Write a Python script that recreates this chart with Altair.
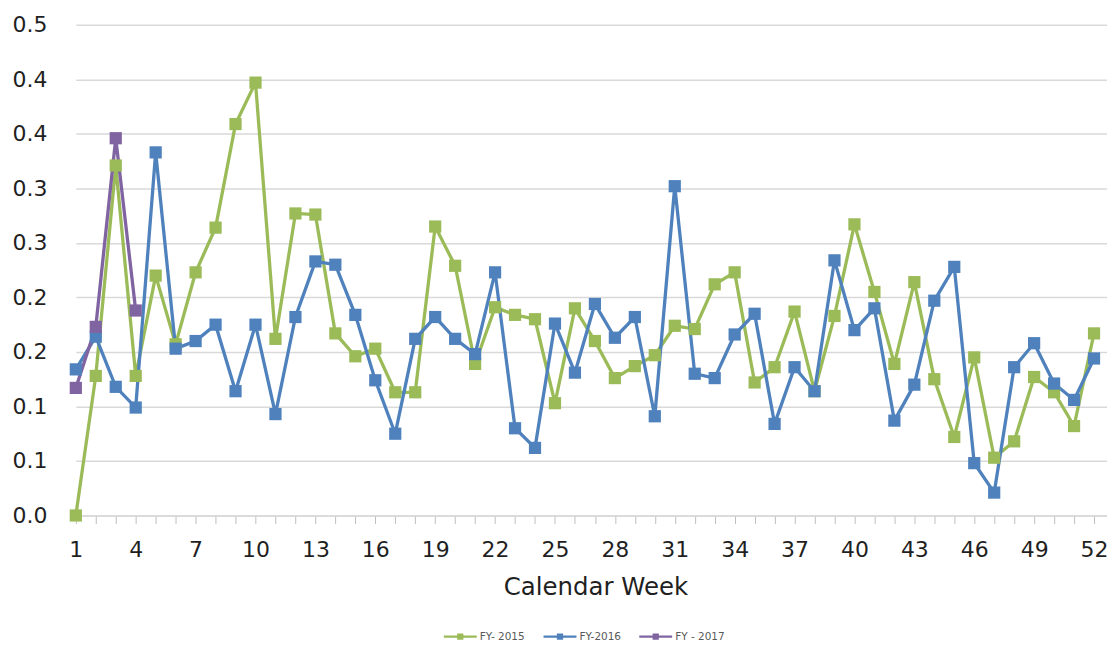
import altair as alt
import pandas as pd

weeks = list(range(1, 53))

fy2015 = [0.000, 0.128, 0.321, 0.128, 0.220, 0.157, 0.223, 0.264, 0.359, 0.397,
          0.162, 0.277, 0.276, 0.167, 0.146, 0.153, 0.113, 0.113, 0.265, 0.229,
          0.139, 0.191, 0.184, 0.180, 0.103, 0.190, 0.160, 0.126, 0.137, 0.147,
          0.174, 0.171, 0.212, 0.223, 0.122, 0.136, 0.187, 0.114, 0.183, 0.267,
          0.205, 0.139, 0.214, 0.125, 0.072, 0.145, 0.053, 0.068, 0.127, 0.113,
          0.082, 0.167]

fy2016 = [0.134, 0.164, 0.118, 0.099, 0.333, 0.153, 0.160, 0.175, 0.114, 0.175,
          0.093, 0.182, 0.233, 0.230, 0.184, 0.124, 0.075, 0.162, 0.182, 0.162,
          0.148, 0.223, 0.080, 0.062, 0.176, 0.131, 0.194, 0.163, 0.182, 0.091,
          0.302, 0.130, 0.126, 0.166, 0.185, 0.084, 0.136, 0.114, 0.234, 0.170,
          0.190, 0.087, 0.120, 0.197, 0.228, 0.048, 0.021, 0.136, 0.158, 0.121,
          0.106, 0.144]

fy2017_weeks = [1, 2, 3, 4]
fy2017 = [0.117, 0.173, 0.346, 0.188]

series_names = ["FY- 2015", "FY-2016", "FY - 2017"]
series_colors = ["#9BBB59", "#4F81BD", "#8064A2"]

x_tick_values = list(range(1, 53))
x_tick_labels = [1, 4, 7, 10, 13, 16, 19, 22, 25, 28, 31, 34, 37, 40, 43, 46, 49, 52]
y_tick_values = [0.0, 0.05, 0.10, 0.15, 0.20, 0.25, 0.30, 0.35, 0.40, 0.45]
y_tick_labels = ["0.0", "0.1", "0.1", "0.2", "0.2", "0.3", "0.3", "0.4", "0.4", "0.5"]

rows = []
for w, v in zip(weeks, fy2015):
    rows.append({"week": w, "value": v, "series": series_names[0]})
for w, v in zip(weeks, fy2016):
    rows.append({"week": w, "value": v, "series": series_names[1]})
for w, v in zip(fy2017_weeks, fy2017):
    rows.append({"week": w, "value": v, "series": series_names[2]})
df = pd.DataFrame(rows)

FONT = "DejaVu Sans"
TEXT = "#1F1F1F"

x_label_expr = "indexof(" + str(x_tick_labels) + ", datum.value) >= 0 ? datum.label : ''"
y_label_expr = "[" + ",".join("'" + s + "'" for s in y_tick_labels) + "][round(datum.value / 0.05)]"

legend_path = "M-1,-0.07H1V0.07H-1Z M-0.19,-0.19H0.19V0.19H-0.19Z"

x_enc = alt.X(
    "week:Q",
    scale=alt.Scale(domain=[1, 52.65], nice=False, zero=False),
    axis=alt.Axis(
        values=x_tick_values,
        labelExpr=x_label_expr,
        title="Calendar Week",
        grid=False,
        domainColor="#D9D9D9",
        domainWidth=1.5,
        tickColor="#BFBFBF",
        tickWidth=1,
        tickSize=8,
        labelFontSize=22,
        labelFont=FONT,
        labelColor=TEXT,
        labelPadding=16,
        labelFlush=False,
        labelOverlap=False,
        titleFont=FONT,
        titleFontSize=24.5,
        titleFontWeight="normal",
        titleColor=TEXT,
        titlePadding=15,
        titleX=521,
        titleAnchor="start",
        titleAlign="center",
    ),
)
y_enc = alt.Y(
    "value:Q",
    scale=alt.Scale(domain=[0, 0.45], nice=False),
    axis=alt.Axis(
        values=y_tick_values,
        labelExpr=y_label_expr,
        title=None,
        domain=False,
        ticks=False,
        tickSize=0,
        gridColor="#D9D9D9",
        gridWidth=1.5,
        labelFontSize=22,
        labelFont=FONT,
        labelColor=TEXT,
        labelPadding=29,
    ),
)
color_scale = alt.Scale(domain=series_names, range=series_colors)

lines = alt.Chart(df).mark_line(strokeWidth=3.3).encode(
    x=x_enc,
    y=y_enc,
    color=alt.Color("series:N", scale=color_scale, legend=None),
)

points = alt.Chart(df).mark_point(shape="square", filled=True, size=150, opacity=1).encode(
    x=x_enc,
    y=y_enc,
    color=alt.Color(
        "series:N",
        scale=color_scale,
        legend=alt.Legend(
            title=None,
            orient="none",
            direction="horizontal",
            legendX=369,
            legendY=597,
            symbolType=legend_path,
            symbolSize=1089,
            symbolStrokeWidth=0,
            symbolOpacity=1,
            labelFontSize=10.5,
            labelFont=FONT,
            labelColor="#595959",
            labelOffset=3,
            columnPadding=18,
        ),
    ),
)

chart = alt.layer(lines, points).resolve_legend(color="independent").properties(
    width=1034,
    height=492,
    padding={"left": 68, "top": 16, "right": 0, "bottom": 130},
    autosize=alt.AutoSizeParams(type="none"),
).configure_view(stroke=None)

chart.save("out.html", embed_options={"renderer": "svg", "actions": False})
